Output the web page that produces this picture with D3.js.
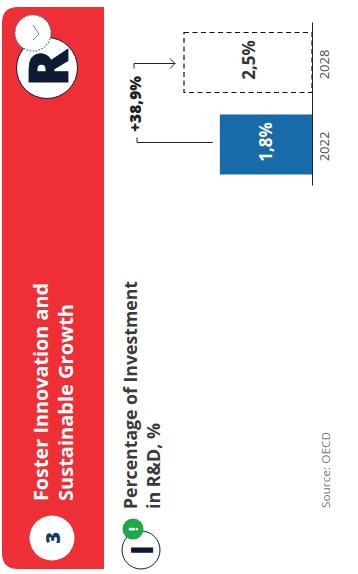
<!DOCTYPE html>
<html>
<head>
<meta charset="utf-8">
<script src="https://cdn.jsdelivr.net/npm/d3@7"></script>
<style>
html,body{margin:0;padding:0;background:#fff;}
svg{display:block;}
text{font-family:"Open Sans",Lato,sans-serif;}
</style>
</head>
<body>
<svg id="chart" width="358" height="574"></svg>
<script>
const years = ["2022", "2028"];
const values = [1.8, 2.5];
const valueLabels = ["1,8%", "2,5%"];
const changeLabel = "+38,9%";
const headingLines = ["Foster Innovation and", "Sustainable Growth"];
const titleLines = ["Percentage of Investment", "in R&D, %"];
const sectionNumber = "3";
const sourceText = "Source: OECD";

const RED = "#ee2f36", NAVY = "#0c1b33", BLUE = "#176ba8", GREY = "#4a4a4a";
const svg = d3.select("#chart");

function vText(x, y, str, opts) {
  const t = svg.append("text")
    .attr("transform", `translate(${x},${y}) rotate(-90)`)
    .attr("dominant-baseline", "central")
    .attr("text-anchor", opts.anchor || "middle")
    .attr("font-size", opts.size)
    .attr("font-weight", opts.weight || 400)
    .attr("fill", opts.fill)
    .text(str);
  if (opts.family) t.style("font-family", opts.family);
  if (opts.length) t.attr("textLength", opts.length).attr("lengthAdjust", "spacingAndGlyphs");
  if (opts.stroke) t.attr("stroke", opts.fill).attr("stroke-width", opts.stroke);
  return t;
}

// Red panel
svg.append("path")
  .attr("d", "M104,7 H18 Q2,7 2,23 V553 Q2,569 18,569 H104 Z")
  .attr("fill", RED);

// R badge
svg.append("circle").attr("cx", 47).attr("cy", 68).attr("r", 30.5)
  .attr("fill", "#fff").attr("stroke", NAVY).attr("stroke-width", 1);
vText(47, 68, "R", {size: 54, weight: 800, fill: NAVY, stroke: 0.8});
svg.append("circle").attr("cx", 33).attr("cy", 33).attr("r", 18)
  .attr("fill", "#fff").attr("stroke", "#2a7fb8").attr("stroke-width", 1.2)
  .attr("stroke-dasharray", "1.5 1.5");
svg.append("path").attr("d", "M33,25 L39,34 L33,40")
  .attr("fill", "none").attr("stroke", "#2a7fb8").attr("stroke-width", 0.9);

// Section number
svg.append("circle").attr("cx", 52).attr("cy", 538).attr("r", 22.5).attr("fill", "#fff");
vText(52, 538, sectionNumber, {size: 20, weight: 800, fill: "#123a63"});

// Heading
const headingLengths = [218, 197];
headingLines.forEach((t, i) => vText(40 + i * 25, 501, t, {size: 20, weight: 700, fill: "#fff", anchor: "start", length: headingLengths[i]}));

// Title
const titleLengths = [228, 86];
titleLines.forEach((t, i) => vText(129.5 + i * 23, 509, t, {size: 18, weight: 700, fill: "#3a3a3a", anchor: "start", length: titleLengths[i]}));

// I badge
svg.append("circle").attr("cx", 141).attr("cy", 550).attr("r", 19)
  .attr("fill", "#fff").attr("stroke", NAVY).attr("stroke-width", 1);
vText(141, 550, "I", {size: 30, weight: 800, fill: NAVY, family: "Lato"});
svg.append("circle").attr("cx", 133).attr("cy", 529).attr("r", 10.5).attr("fill", "#1fa84a");
vText(133, 529, "!", {size: 13, weight: 800, fill: "#fff"});

// Source
vText(325, 508, sourceText, {size: 11, fill: "#777", anchor: "start", length: 76});

// Chart
const x = d3.scaleLinear().domain([0, 2.5]).range([312, 184]);
const y = d3.scaleBand().domain(years).range([185, 22]).paddingInner(0.268).paddingOuter(0.128);
const rows = years.map((year, i) => ({year, value: values[i], label: valueLabels[i]}));

svg.selectAll(".bar").data(rows).enter().append("rect")
  .attr("class", "bar")
  .attr("x", d => x(d.value))
  .attr("y", d => y(d.year))
  .attr("width", d => x(0) - x(d.value))
  .attr("height", y.bandwidth())
  .attr("fill", (d, i) => i === 0 ? BLUE : "none")
  .attr("stroke", (d, i) => i === 0 ? "none" : "#111")
  .attr("stroke-width", 1.2)
  .attr("stroke-dasharray", (d, i) => i === 0 ? null : "5 3.5");

rows.forEach((d, i) => {
  const cy = y(d.year) + y.bandwidth() / 2 - 2.5;
  const cx = (x(0) + x(d.value)) / 2;
  vText(cx, cy, d.label, {size: 17, weight: 700, fill: i === 0 ? "#fff" : "#333"});
});

const axis = d3.axisRight(y).tickSize(0).tickPadding(6);
const axisG = svg.append("g").attr("transform", `translate(${x(0)},0)`).call(axis);
axisG.select(".domain").attr("stroke", "#222").attr("stroke-width", 1);
axisG.selectAll("text")
  .attr("font-family", "Open Sans, sans-serif")
  .attr("font-size", 13)
  .attr("fill", GREY)
  .attr("x", null).attr("dy", null)
  .attr("text-anchor", "middle")
  .attr("dominant-baseline", "central")
  .attr("transform", "translate(12,2) rotate(-90)");

// Change connector
const yA = y("2022") + y.bandwidth() / 2 - 2;
const yB = y("2028") + y.bandwidth() / 2 + 1;
svg.append("path")
  .attr("d", `M${x(1.8) - 7},${yA} H137 V${yA - 5}`)
  .attr("fill", "none").attr("stroke", "#222").attr("stroke-width", 1);
svg.append("path")
  .attr("d", `M134,${yB + 5} V${yB} H${x(2.5) - 9} M${x(2.5) - 14},${yB - 5} L${x(2.5) - 9},${yB} L${x(2.5) - 14},${yB + 5}`)
  .attr("fill", "none").attr("stroke", "#222").attr("stroke-width", 1);
vText(135, 104, changeLabel, {size: 15, weight: 800, fill: "#222", length: 56});
</script>
</body>
</html>
